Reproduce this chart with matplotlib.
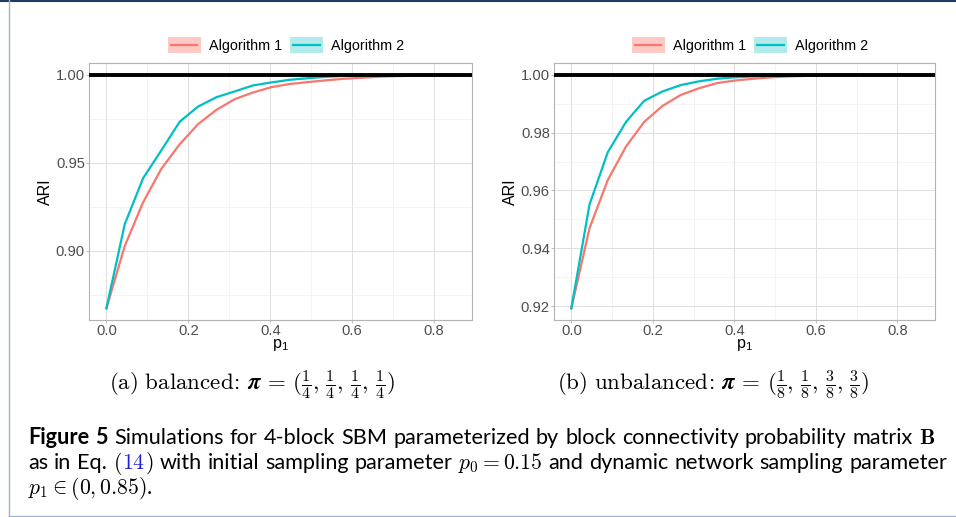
import numpy as np
import matplotlib
matplotlib.use("Agg")
import matplotlib.pyplot as plt
from matplotlib.patches import Rectangle
from matplotlib.lines import Line2D
from matplotlib.legend_handler import HandlerBase

plt.rcParams["font.family"] = ["Liberation Sans", "DejaVu Sans"]
plt.rcParams["mathtext.fontset"] = "cm"

# sampling parameter p1, 20 values in [0, 0.85]
p1 = np.linspace(0, 0.85, 20)

# (a) balanced
ari_bal_alg1 = [0.8674, 0.9027, 0.9275, 0.9466, 0.9605, 0.9719, 0.9800, 0.9861, 0.9899, 0.9929,
                0.9947, 0.9958, 0.9968, 0.9977, 0.9983, 0.9989, 0.9992, 0.9995, 0.9997, 0.9998]
ari_bal_alg2 = [0.8674, 0.9151, 0.9412, 0.9571, 0.9733, 0.9819, 0.9872, 0.9905, 0.9939, 0.9956,
                0.9971, 0.9980, 0.9988, 0.9993, 0.9996, 0.9998, 0.9999, 0.9999, 1.0000, 1.0000]

# (b) unbalanced
ari_unb_alg1 = [0.9193, 0.9470, 0.9636, 0.9752, 0.9837, 0.9892, 0.9930, 0.9953, 0.9971, 0.9980,
                0.9986, 0.9991, 0.9994, 0.9996, 0.9997, 0.9998, 0.9999, 0.9999, 1.0000, 1.0000]
ari_unb_alg2 = [0.9193, 0.9552, 0.9732, 0.9837, 0.9910, 0.9942, 0.9964, 0.9977, 0.9986, 0.9991,
                0.9994, 0.9996, 0.9997, 0.9998, 0.9999, 0.9999, 1.0000, 1.0000, 1.0000, 1.0000]

labels = ["Algorithm 1", "Algorithm 2"]
colors = ["#F8766D", "#00BFC4"]
key_fills = ["#FDC9C5", "#B3EBED"]

x_ticks = [0.0, 0.2, 0.4, 0.6, 0.8]
y_ticks_bal = [0.90, 0.95, 1.00]
y_ticks_unb = [0.92, 0.94, 0.96, 0.98, 1.00]

captions = [r"$\mathrm{(a)\ balanced}\!:\!\ \boldsymbol{\pi}\,=\,(\frac{1}{4},\, \frac{1}{4},\, \frac{1}{4},\, \frac{1}{4})$",
            r"$\mathrm{(b)\ unbalanced}\!:\!\ \boldsymbol{\pi}\,=\,(\frac{1}{8},\, \frac{1}{8},\, \frac{3}{8},\, \frac{3}{8})$"]

BLUE = "#2020E0"
# caption lines: words, each word a list of (text, weight, colour) pieces
cap_line1 = [[("Figure", "bold", "k")], [("5", "bold", "k")]] + \
    [[(w, "normal", "k")] for w in
     "Simulations for 4-block SBM parameterized by block connectivity probability matrix".split()] + \
    [[(r"$\mathbf{B}$", "normal", "k")]]
cap_line2 = [[(w, "normal", "k")] for w in ["as", "in", "Eq."]] + \
    [[("$($", "normal", "k"), ("$14$", "normal", BLUE), ("$)$", "normal", "k")]] + \
    [[(w, "normal", "k")] for w in "with initial sampling parameter".split()] + \
    [[(r"$p_0 = 0.15$", "normal", "k")]] + \
    [[(w, "normal", "k")] for w in "and dynamic network sampling parameter".split()]
cap_line3 = r"$p_1 \in (0, 0.85)$."

W, H = 956, 517
fig = plt.figure(figsize=(W / 100, H / 100), dpi=100)
renderer = fig.canvas.get_renderer()


def px_box(x0, y0, x1, y1):
    return [x0 / W, 1 - y1 / H, (x1 - x0) / W, (y1 - y0) / H]


class KeyHandler(HandlerBase):
    """ggplot-like legend key: filled box with a line across it."""

    def legend_artist(self, legend, orig_handle, fontsize, handlebox):
        fill, col = orig_handle
        x0, y0 = -handlebox.xdescent, -handlebox.ydescent
        w, h = handlebox.width, handlebox.height
        box = Rectangle((x0, y0), w, h, facecolor=fill, edgecolor="none",
                        transform=handlebox.get_transform())
        ln = Line2D([x0 + 0.1 * w, x0 + 0.9 * w], [y0 + h / 2, y0 + h / 2], color=col,
                    linewidth=1.6, transform=handlebox.get_transform())
        handlebox.add_artist(box)
        handlebox.add_artist(ln)
        return box


def ggplot_panel(ax, series, yticks, minor_y):
    ax.set_facecolor("white")
    for s in ax.spines.values():
        s.set_color("#B3B3B3")
        s.set_linewidth(0.8)
    ax.set_xticks(x_ticks)
    ax.set_xticks([0.1, 0.3, 0.5, 0.7], minor=True)
    ax.set_yticks(yticks)
    ax.set_yticks(minor_y, minor=True)
    ax.grid(which="major", color="#DEDEDE", linewidth=0.7)
    ax.grid(which="minor", color="#EDEDED", linewidth=0.4)
    ax.set_axisbelow(True)
    ax.tick_params(which="major", length=2, width=0.6, color="#B3B3B3",
                   labelsize=10.6, labelcolor="#4D4D4D", pad=1)
    ax.tick_params(which="minor", length=0)
    ax.yaxis.set_major_formatter(matplotlib.ticker.FormatStrFormatter("%.2f"))
    ax.xaxis.set_major_formatter(matplotlib.ticker.FormatStrFormatter("%.1f"))

    for vals, c in zip(series, colors):
        ax.plot(p1, vals, color=c, linewidth=1.6, solid_joinstyle="miter")
    ax.axhline(1.0, color="black", linewidth=2.8, zorder=5)

    ymin = min(min(v) for v in series)
    ymax = 1.0
    pad = (ymax - ymin) * 0.05
    ax.set_ylim(ymin - pad, ymax + pad)
    ax.set_xlim(-0.0425, 0.8925)
    ax.set_ylabel("ARI", fontsize=11.5, labelpad=2)
    ax.set_xlabel(r"$\mathregular{p_1}$", fontsize=11.5, labelpad=-1)

    handles = [(f, c) for f, c in zip(key_fills, colors)]
    ax.legend(handles, labels, handler_map={tuple: KeyHandler()}, loc="center",
              bbox_to_anchor=(0.514, 1.07), ncol=2, frameon=False, fontsize=10.4,
              handlelength=2.3, handleheight=1.3, handletextpad=0.55,
              columnspacing=0.55, borderaxespad=0)


ax1 = fig.add_axes(px_box(89, 63, 472, 320))
ggplot_panel(ax1, [ari_bal_alg1, ari_bal_alg2], y_ticks_bal, [0.875, 0.925, 0.975])
ax2 = fig.add_axes(px_box(554, 63, 935, 320))
ggplot_panel(ax2, [ari_unb_alg1, ari_unb_alg2], y_ticks_unb, [0.93, 0.95, 0.97, 0.99])

fig.text(252 / W, 1 - 385 / H, captions[0], ha="center", va="center", fontsize=16.5)
fig.text(713 / W, 1 - 385 / H, captions[1], ha="center", va="center", fontsize=16.5)

cap_font = ["Lato", "DejaVu Sans"]
cap_size = 15.6


def draw_word(word, x, yb):
    """Place the pieces of one word side by side; return its right edge in pixels."""
    for txt, weight, col in word:
        t = fig.text(x / W, 1 - yb / H, txt, ha="left", va="baseline", fontsize=cap_size,
                     family=cap_font, weight=weight, color=col)
        x = t.get_window_extent(renderer).x1
    return x


def justified_line(words, x_left, x_right, yb):
    # measure natural widths first, then spread the gaps so the line fills the measure
    widths = []
    for word in words:
        tmp = [fig.text(0, 0, txt, fontsize=cap_size, family=cap_font, weight=wt)
               for txt, wt, _ in word]
        widths.append(sum(t.get_window_extent(renderer).width for t in tmp))
        for t in tmp:
            t.remove()
    gap = (x_right - x_left - sum(widths)) / (len(words) - 1)
    x = x_left
    for word, w in zip(words, widths):
        draw_word(word, x, yb)
        x += w + gap


justified_line(cap_line1, 28, 935, 444)
justified_line(cap_line2, 28, 947, 469)
draw_word([(cap_line3, "normal", "k")], 28, 494)

# page frame
fig.add_artist(Line2D([0, 1], [1 - 1 / H, 1 - 1 / H], color="#1F3864", linewidth=1.5,
                      transform=fig.transFigure))
fig.add_artist(Line2D([9 / W, 9 / W], [1 - 516 / H, 1], color="#9FB2CC", linewidth=1.0,
                      transform=fig.transFigure))
fig.add_artist(Line2D([9 / W, 1], [1 - 516 / H, 1 - 516 / H], color="#9FB2CC", linewidth=1.0,
                      transform=fig.transFigure))

fig.savefig("out.png", dpi=100)
